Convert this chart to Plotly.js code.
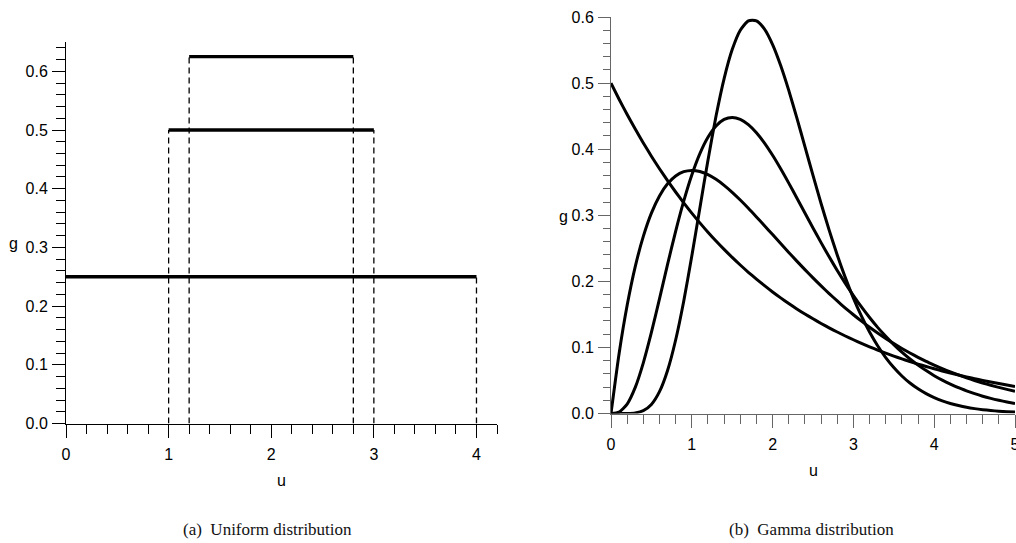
<!DOCTYPE html>
<html>
<head>
<meta charset="utf-8">
<script src="https://cdn.plot.ly/plotly-3.0.1.min.js"></script>
<style>
html,body{margin:0;padding:0;background:#fff;}
#chart{width:1016px;height:543px;}
</style>
</head>
<body>
<div id="chart"></div>
<script>
// ---- Data (a): uniform densities ----
const uniformStart  = [0, 1, 1.2];
const uniformEnd    = [4, 3, 2.8];
const uniformHeight = [0.25, 0.5, 0.625];

// ---- Data (b): gamma densities, read along u ----
const gammaU = [0,0.1,0.2,0.3,0.4,0.5,0.6,0.7,0.8,0.9,1.0,1.1,1.2,1.3,1.4,1.5,1.6,1.7,1.8,1.9,2.0,
  2.1,2.2,2.3,2.4,2.5,2.6,2.7,2.8,2.9,3.0,3.1,3.2,3.3,3.4,3.5,3.6,3.7,3.8,3.9,4.0,
  4.1,4.2,4.3,4.4,4.5,4.6,4.7,4.8,4.9,5.0];
const gammaShape1 = [0.5,0.4756,0.4524,0.4304,0.4094,0.3894,0.3704,0.3523,0.3352,0.3188,0.3033,
  0.2885,0.2744,0.2610,0.2483,0.2362,0.2247,0.2137,0.2033,0.1934,0.1839,
  0.1750,0.1664,0.1583,0.1506,0.1433,0.1363,0.1296,0.1233,0.1173,0.1116,
  0.1061,0.1009,0.0960,0.0913,0.0869,0.0826,0.0786,0.0748,0.0711,0.0677,
  0.0644,0.0612,0.0582,0.0554,0.0527,0.0501,0.0477,0.0454,0.0431,0.0410];
const gammaShape2 = [0,0.0905,0.1637,0.2222,0.2681,0.3033,0.3293,0.3476,0.3595,0.3659,0.3679,
  0.3662,0.3614,0.3543,0.3452,0.3347,0.3230,0.3106,0.2975,0.2842,0.2707,
  0.2572,0.2438,0.2306,0.2177,0.2052,0.1931,0.1815,0.1703,0.1596,0.1494,
  0.1397,0.1304,0.1217,0.1135,0.1057,0.0984,0.0915,0.0850,0.0789,0.0733,
  0.0679,0.0630,0.0583,0.0540,0.0500,0.0462,0.0427,0.0395,0.0365,0.0337];
const gammaShape4 = [0,0.0022,0.0143,0.0395,0.0767,0.1226,0.1735,0.2256,0.2757,0.3213,0.3609,
  0.3933,0.4180,0.4351,0.4450,0.4481,0.4452,0.4372,0.4249,0.4092,0.3907,
  0.3703,0.3486,0.3261,0.3034,0.2807,0.2586,0.2371,0.2165,0.1969,0.1785,
  0.1612,0.1452,0.1303,0.1168,0.1043,0.0929,0.0825,0.0732,0.0649,0.0572,
  0.0505,0.0445,0.0390,0.0343,0.0300,0.0262,0.0229,0.0200,0.0174,0.0151];
const gammaShape8 = [0,0.0000,0.0001,0.0009,0.0043,0.0137,0.0330,0.0651,0.1112,0.1699,0.2382,
  0.3111,0.3834,0.4501,0.5069,0.5507,0.5800,0.5943,0.5943,0.5817,0.5583,
  0.5266,0.4889,0.4473,0.4039,0.3603,0.3178,0.2775,0.2399,0.2056,0.1747,
  0.1473,0.1233,0.1025,0.0847,0.0696,0.0568,0.0461,0.0373,0.0300,0.0240,
  0.0191,0.0152,0.0120,0.0094,0.0074,0.0058,0.0045,0.0035,0.0027,0.0021];

// ---- Text ----
const captionA = "(a)  Uniform distribution";
const captionB = "(b)  Gamma distribution";
const xTitle = "u";
const yTitle = "g";

const W = 1016, H = 543;
const px = v => v / W;
const py = v => 1 - v / H;

const traces = [];
for (let i = 0; i < uniformStart.length; i++) {
  traces.push({type:'scatter', mode:'lines', xaxis:'x', yaxis:'y',
    x:[uniformStart[i], uniformEnd[i]], y:[uniformHeight[i], uniformHeight[i]],
    line:{color:'#000', width:3.4}, hoverinfo:'skip', showlegend:false});
  const edges = uniformStart[i] > 0 ? [uniformStart[i], uniformEnd[i]] : [uniformEnd[i]];
  edges.forEach(e => traces.push({type:'scatter', mode:'lines', xaxis:'x', yaxis:'y',
    x:[e, e], y:[0, uniformHeight[i]],
    line:{color:'#000', width:1.3, dash:'6px,4px'}, hoverinfo:'skip', showlegend:false}));
}
[gammaShape1, gammaShape2, gammaShape4, gammaShape8].forEach(s => traces.push({
  type:'scatter', mode:'lines', xaxis:'x2', yaxis:'y2', x:gammaU, y:s,
  line:{color:'#000', width:3, shape:'spline', smoothing:0.6}, hoverinfo:'skip', showlegend:false}));

const tickFont = {family:'Liberation Sans, Arial, sans-serif', size:16, color:'#000'};
function axis(opts) {
  return Object.assign({
    showgrid:false, zeroline:false, showline:true, linewidth:1,
    ticks:'outside', tickwidth:1, tickfont:tickFont, fixedrange:true
  }, opts);
}

const layout = {
  width:W, height:H, margin:{l:0,r:0,t:0,b:0},
  paper_bgcolor:'#fff', plot_bgcolor:'rgba(0,0,0,0)', showlegend:false,
  xaxis: axis({domain:[px(66), px(497)], range:[0,4.2], anchor:'y', dtick:1, tick0:0,
    linecolor:'#000', tickcolor:'#000', ticklen:13, ticklabelstandoff:3,
    minor:{dtick:0.2, tick0:0, ticklen:9, tickcolor:'#000', tickwidth:1, ticks:'outside', showgrid:false}}),
  yaxis: axis({domain:[py(423.5), py(42)], range:[0,0.65], anchor:'x', dtick:0.1, tick0:0,
    tickformat:'.1f', linecolor:'#000', tickcolor:'#000', ticklen:13, ticklabelstandoff:1,
    minor:{dtick:0.02, tick0:0, ticklen:9, tickcolor:'#000', tickwidth:1, ticks:'outside', showgrid:false}}),
  xaxis2: axis({domain:[px(611), px(1015)], range:[0,5], anchor:'y2', dtick:1, tick0:0,
    linecolor:'#666', tickcolor:'#666', ticklen:13, ticklabelstandoff:3, ticklabeloverflow:'allow',
    minor:{dtick:0.2, tick0:0, ticklen:9, tickcolor:'#666', tickwidth:1, ticks:'outside', showgrid:false}}),
  yaxis2: axis({domain:[py(413.5), py(17)], range:[0,0.6], anchor:'x2', dtick:0.1, tick0:0,
    tickformat:'.1f', linecolor:'#666', tickcolor:'#666', ticklen:12, ticklabelstandoff:1,
    minor:{dtick:0.02, tick0:0, ticklen:7, tickcolor:'#666', tickwidth:1, ticks:'outside', showgrid:false}}),
  annotations: [
    {text:yTitle, xref:'paper', yref:'paper', x:px(13), y:py(243), xanchor:'center', yanchor:'middle', showarrow:false, font:{family:'Liberation Sans, Arial, sans-serif', size:16, color:'#000'}},
    {text:yTitle, xref:'paper', yref:'paper', x:px(563), y:py(216), xanchor:'center', yanchor:'middle', showarrow:false, font:{family:'Liberation Sans, Arial, sans-serif', size:16, color:'#000'}},
    {text:xTitle, xref:'paper', yref:'paper', x:px(281), y:py(480), xanchor:'center', yanchor:'middle', showarrow:false, font:{family:'Liberation Sans, Arial, sans-serif', size:16, color:'#000'}},
    {text:xTitle, xref:'paper', yref:'paper', x:px(813), y:py(470), xanchor:'center', yanchor:'middle', showarrow:false, font:{family:'Liberation Sans, Arial, sans-serif', size:16, color:'#000'}},
    {text:captionA, xref:'paper', yref:'paper', x:px(267), y:py(529), xanchor:'center', yanchor:'middle', showarrow:false, font:{family:'Liberation Serif, Times New Roman, serif', size:17, color:'#111'}},
    {text:captionB, xref:'paper', yref:'paper', x:px(811), y:py(529), xanchor:'center', yanchor:'middle', showarrow:false, font:{family:'Liberation Serif, Times New Roman, serif', size:17, color:'#111'}}
  ]
};

Plotly.newPlot('chart', traces, layout, {staticPlot:true, displayModeBar:false});
</script>
</body>
</html>
